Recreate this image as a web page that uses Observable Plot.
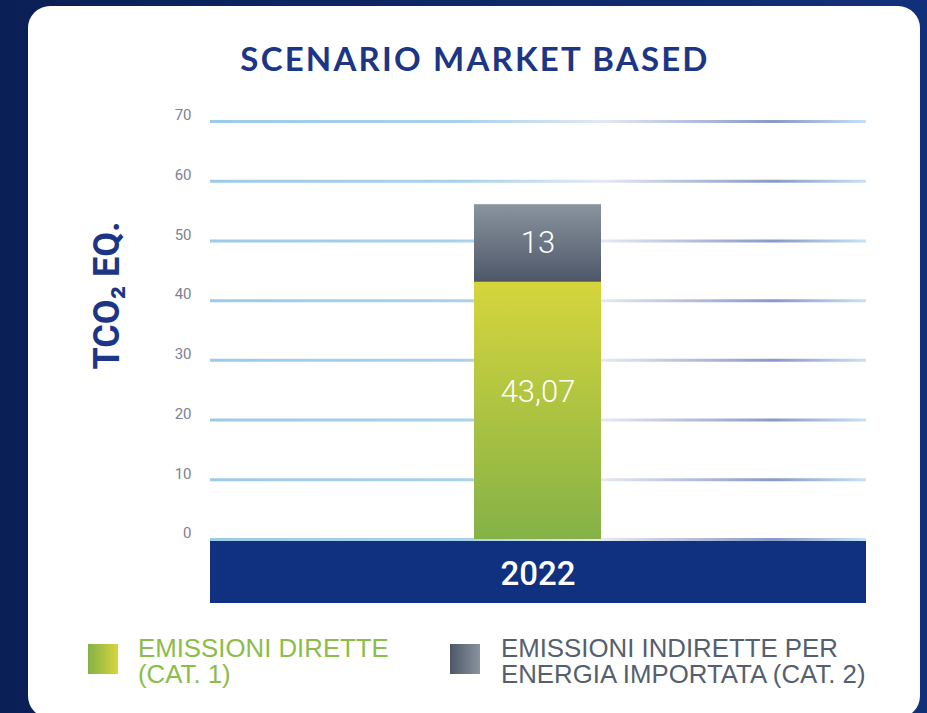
<!DOCTYPE html>
<html><head><meta charset="utf-8">
<script src="https://cdn.jsdelivr.net/npm/d3@7"></script>
<script src="https://cdn.jsdelivr.net/npm/@observablehq/plot@0.6"></script>
<style>
html,body{margin:0;padding:0;}
body{width:927px;height:713px;overflow:hidden;position:relative;background:linear-gradient(90deg,#0a1f55 0%,#0e2866 50%,#12307a 100%);font-family:Roboto,"Liberation Sans",sans-serif;}
#card{position:absolute;left:28px;top:6px;width:892px;height:712px;background:#fff;border-radius:22px;}
#title{position:absolute;left:0;top:42px;width:950px;text-align:center;font-family:Lato,sans-serif;font-weight:700;font-size:33px;line-height:33px;letter-spacing:2.2px;color:#1c3685;}
#chart{position:absolute;left:0;top:90px;}
.sw{position:absolute;top:644px;width:30px;height:30px;}
.lt{position:absolute;font-family:"Liberation Sans",Arial,sans-serif;font-weight:400;font-size:25.8px;line-height:25px;height:25px;white-space:nowrap;}
</style></head>
<body>
<svg width="0" height="0" style="position:absolute">
  <defs>
    <linearGradient id="gGreen" x1="0" y1="0" x2="0" y2="1">
      <stop offset="0" stop-color="#d6d53c"/>
      <stop offset="1" stop-color="#84b247"/>
    </linearGradient>
    <linearGradient id="gGray" x1="0" y1="0" x2="0" y2="1">
      <stop offset="0" stop-color="#89949f"/>
      <stop offset="1" stop-color="#4e5768"/>
    </linearGradient>
    <linearGradient id="gGrid" gradientUnits="userSpaceOnUse" x1="210" y1="0" x2="866" y2="0">
      <stop offset="0" stop-color="#9ccbe8"/>
      <stop offset="0.38" stop-color="#a8d1eb"/>
      <stop offset="0.6" stop-color="#e4e8f3"/>
      <stop offset="0.86" stop-color="#8999c8"/>
      <stop offset="1" stop-color="#c6e2f6"/>
    </linearGradient>
  </defs>
</svg>
<div id="card"></div>
<div id="title">SCENARIO MARKET BASED</div>
<div id="chart"></div>
<div class="sw" style="left:88px;background:linear-gradient(90deg,#84b247,#d6d53c)"></div>
<div class="lt" style="left:138px;top:635.5px;color:#8cbc4a">EMISSIONI DIRETTE</div>
<div class="lt" style="left:138px;top:661.5px;color:#8cbc4a">(CAT. 1)</div>
<div class="sw" style="left:450px;background:linear-gradient(90deg,#4e5768,#89949f)"></div>
<div class="lt" style="left:501px;top:635.5px;color:#565f6e">EMISSIONI INDIRETTE PER</div>
<div class="lt" style="left:501px;top:661.5px;color:#565f6e">ENERGIA IMPORTATA (CAT. 2)</div>
<script>
// ---- data ----
const years = ["2022"];
const series = ["EMISSIONI DIRETTE (CAT. 1)", "EMISSIONI INDIRETTE PER ENERGIA IMPORTATA (CAT. 2)"];
const directValues = [43.07];
const indirectValues = [13];
const directLabels = ["43,07"];
const indirectLabels = ["13"];
const yTicks = [0, 10, 20, 30, 40, 50, 60, 70];
const yLabel = "TCO\u2082 EQ.";

// ---- table built from arrays ----
const rows = [];
years.forEach((yr, i) => {
  rows.push({year: yr, category: series[0], value: directValues[i], label: directLabels[i], mid: directValues[i] / 2});
  rows.push({year: yr, category: series[1], value: indirectValues[i], label: indirectLabels[i], mid: directValues[i] + indirectValues[i] / 2});
});

const W = 927, H = 530, ML = 210, MR = 61, MT = 31, MB = 81;

function bandMark(index, scales, values, dimensions) {
  const d = dimensions || {width: W, height: H, marginLeft: ML, marginRight: MR, marginBottom: MB};
  const r = document.createElementNS("http://www.w3.org/2000/svg", "rect");
  r.setAttribute("x", d.marginLeft);
  r.setAttribute("width", d.width - d.marginLeft - d.marginRight);
  r.setAttribute("y", d.height - d.marginBottom + 1);
  r.setAttribute("height", 63);
  r.setAttribute("fill", "#0f3180");
  return r;
}

const chart = Plot.plot({
  width: W, height: H,
  marginLeft: ML, marginRight: MR, marginTop: MT, marginBottom: MB,
  style: {background: "transparent", overflow: "visible"},
  x: {type: "band", domain: years, padding: 0.675, axis: null},
  y: {domain: [0, 70], axis: null},
  color: {domain: series, range: ["url(#gGreen)", "url(#gGray)"]},
  marks: [
    bandMark,
    Plot.ruleY(yTicks, {y: d => d, stroke: "url(#gGrid)", strokeWidth: 3}),
    Plot.barY(rows, {x: "year", y: "value", fill: "category"}),
    Plot.text(yTicks, {y: d => d, text: d => String(d), frameAnchor: "left", textAnchor: "end", dx: -19, dy: -6, fontSize: 15, fill: "#7b8391", fontFamily: "Roboto, sans-serif"}),
    Plot.text(rows.filter(r => r.category === series[0]), {x: "year", y: "mid", text: "label", dy: -19, fill: "white", fontSize: 31, fontWeight: 300, fontFamily: "Roboto, sans-serif"}),
    Plot.text(rows.filter(r => r.category === series[1]), {x: "year", y: "mid", text: "label", fill: "white", fontSize: 31, fontWeight: 300, fontFamily: "Roboto, sans-serif"}),
    Plot.text(years, {x: d => d, text: d => d, frameAnchor: "bottom", dy: 45, fill: "white", fontSize: 33, fontWeight: 500, fontFamily: "Roboto, sans-serif"}),
    Plot.text([yLabel], {text: d => d, frameAnchor: "left", textAnchor: "middle", rotate: -90, dx: -103, dy: -35, fill: "#1c3685", fontSize: 36, fontWeight: 700, fontFamily: "Roboto, sans-serif"})
  ]
});
document.getElementById("chart").appendChild(chart);
</script>
</body></html>
